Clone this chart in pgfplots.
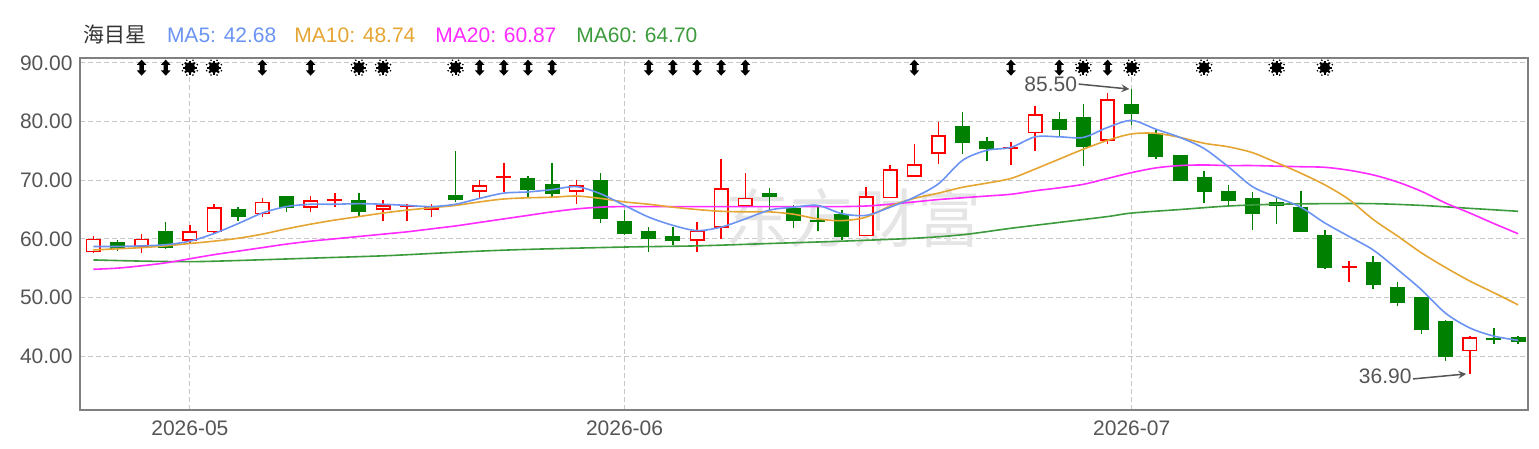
\documentclass[border=0pt]{standalone}
\usepackage{fontspec}
\setmainfont{Liberation Sans}
\newfontfamily\cjk{Noto Sans CJK SC}
\usepackage{pgfplots}
\pgfplotsset{compat=1.18}
\usepackage{pgfplotstable}

\definecolor{cred}{HTML}{FF0000}
\definecolor{cgreen}{HTML}{008000}
\definecolor{ma5}{HTML}{6A93F2}
\definecolor{ma10}{HTML}{E5A532}
\definecolor{ma20}{HTML}{FF2BFF}
\definecolor{ma60}{HTML}{3C9B3C}
\definecolor{txt}{HTML}{555555}

% top-row event marks
\pgfdeclareplotmark{updown}{%
  \pgfpathmoveto{\pgfqpoint{0pt}{4pt}}%
  \pgfpathlineto{\pgfqpoint{-2.4pt}{1.4pt}}%
  \pgfpathlineto{\pgfqpoint{-1.1pt}{1.4pt}}%
  \pgfpathlineto{\pgfqpoint{-1.1pt}{-1.4pt}}%
  \pgfpathlineto{\pgfqpoint{-2.4pt}{-1.4pt}}%
  \pgfpathlineto{\pgfqpoint{0pt}{-4pt}}%
  \pgfpathlineto{\pgfqpoint{2.4pt}{-1.4pt}}%
  \pgfpathlineto{\pgfqpoint{1.1pt}{-1.4pt}}%
  \pgfpathlineto{\pgfqpoint{1.1pt}{1.4pt}}%
  \pgfpathlineto{\pgfqpoint{2.4pt}{1.4pt}}%
  \pgfpathclose\pgfusepathqfill}
\pgfdeclareplotmark{burst}{%
  \pgfpathcircle{\pgfpointorigin}{2.7pt}\pgfusepathqfill
  \foreach \a in {0,45,...,315}{%
    \pgfpathmoveto{\pgfpointpolar{\a}{1.5pt}}%
    \pgfpathlineto{\pgfpointpolar{\a}{3.5pt}}%
    \pgfsetlinewidth{1pt}\pgfusepathqstroke
    \pgfpathcircle{\pgfpointpolar{\a+22.5}{4pt}}{0.45pt}\pgfusepathqfill}}

% candles, i = trading day
\pgfplotstableread{
i o h l c
0 57.7 60.4 57.5 60.0
2 58.6 60.9 57.5 60.0
4 59.7 62.3 59.3 61.3
5 61.1 66.0 60.9 65.4
7 64.2 67.0 63.7 66.3
9 65.3 67.3 64.6 66.6
10 66.5 67.8 65.5 66.7
12 65.0 66.6 63.0 65.7
13 65.6 66.0 63.1 65.7
14 64.9 66.0 63.7 65.4
16 68.0 70.0 66.9 69.1
17 70.5 72.9 68.0 70.7
20 68.0 70.0 65.9 69.1
25 59.7 62.9 57.8 61.4
26 61.9 73.7 60.0 68.6
27 65.5 71.3 65.5 67.0
32 60.4 68.9 60.4 67.3
33 66.9 72.6 66.9 71.9
34 70.6 76.1 70.6 72.7
35 74.5 79.9 72.7 77.7
38 75.4 76.6 72.6 75.6
39 78.0 82.7 74.9 81.3
42 76.7 84.9 76.2 83.8
52 55.2 56.3 52.7 55.3
57 40.8 43.5 36.9 43.2
}\upt
\pgfplotstableread{
i o h l c
1 59.5 59.8 58.0 58.3
3 61.4 62.9 58.3 58.4
6 65.1 65.4 63.0 63.7
8 67.3 67.3 64.6 65.3
11 66.6 67.8 63.7 64.6
15 67.5 75.0 66.3 66.7
18 70.4 70.7 66.9 68.3
19 69.4 72.9 66.9 67.7
21 70.1 71.3 62.7 63.3
22 63.0 65.0 60.6 60.9
23 61.4 62.0 57.8 60.0
24 60.5 62.0 58.9 59.6
28 67.8 68.6 64.9 67.1
29 65.3 65.7 61.9 63.1
30 63.1 65.4 61.4 63.0
31 64.2 65.0 59.8 60.3
36 79.3 81.7 74.5 76.3
37 76.7 77.3 73.3 75.4
40 80.5 81.7 77.3 78.6
41 80.7 83.0 72.4 75.7
43 83.0 85.5 79.4 81.3
44 78.0 78.6 73.6 73.9
45 74.3 74.3 69.9 69.9
46 70.6 71.5 66.1 68.0
47 68.1 69.1 65.6 66.5
48 66.9 68.0 61.5 64.3
49 66.2 66.9 62.5 65.6
50 65.4 68.1 61.1 61.1
51 60.6 61.5 54.8 55.1
53 56.0 57.1 51.4 52.1
54 51.7 52.6 48.6 49.0
55 50.1 50.1 43.8 44.5
56 45.9 46.1 39.2 39.9
58 42.9 44.8 42.0 42.8
59 43.2 43.5 42.1 42.4
}\downt

\begin{document}
\begin{tikzpicture}
\useasboundingbox (-40pt,-19.5pt) rectangle (729.5pt,205pt);
\begin{axis}[
  at={(0,0)}, anchor=south west,
  scale only axis, width=724pt, height=176pt,
  xmin=-0.55, xmax=59.41, ymin=30.8, ymax=90.85,
  axis line style={draw=black!50, line width=1pt},
  xtick={4,22,43}, xticklabels={2026-05,2026-06,2026-07},
  ytick={40,50,...,90},
  major tick length=0pt,
  xmajorgrids, ymajorgrids,
  major grid style={black!22, line width=0.5pt, dash pattern=on 2.5pt off 1.5pt},
  tick label style={font=\fontsize{10.5}{12}\selectfont, text=txt},
  yticklabel style={inner sep=0pt, xshift=-3.5pt,
    /pgf/number format/.cd, fixed, fixed zerofill, precision=2, assume math mode=true},
  xticklabel style={inner sep=0pt, yshift=-5pt},
]
% watermark
\node[text=black!10, font=\cjk\fontsize{32}{34}\selectfont] at (axis cs:31.5,63.6) {东方财富};

% up candles: wick, body, hollow inside
\addplot[forget plot, draw=none, mark=none, error bars/.cd, y dir=both, y explicit, error mark=none,
  error bar style={draw=cred, line width=0.75pt}]
  table[x=i, y expr={(\thisrow{h}+\thisrow{l})/2}, y error expr={(\thisrow{h}-\thisrow{l})/2}] {\upt};
\addplot[forget plot, draw=none, mark=none, error bars/.cd, y dir=both, y explicit, error mark=none,
  error bar style={draw=cred, line width=7.5pt}]
  table[x=i, y expr={(\thisrow{o}+\thisrow{c})/2}, y error expr={max(abs(\thisrow{c}-\thisrow{o})/2,0.15)}] {\upt};
\addplot[forget plot, draw=none, mark=none, error bars/.cd, y dir=both, y explicit, error mark=none,
  error bar style={draw=white, line width=5.9pt}]
  table[x=i, y expr={(\thisrow{o}+\thisrow{c})/2}, y error expr={max(abs(\thisrow{c}-\thisrow{o})/2-0.27,0)}] {\upt};
% down candles
\addplot[forget plot, draw=none, mark=none, error bars/.cd, y dir=both, y explicit, error mark=none,
  error bar style={draw=cgreen, line width=0.75pt}]
  table[x=i, y expr={(\thisrow{h}+\thisrow{l})/2}, y error expr={(\thisrow{h}-\thisrow{l})/2}] {\downt};
\addplot[forget plot, draw=none, mark=none, error bars/.cd, y dir=both, y explicit, error mark=none,
  error bar style={draw=cgreen, line width=7.5pt}]
  table[x=i, y expr={(\thisrow{o}+\thisrow{c})/2}, y error expr={max(abs(\thisrow{c}-\thisrow{o})/2,0.15)}] {\downt};

% moving averages
\addplot[ma60, line width=0.8pt, smooth] coordinates {
(0,56.4) (2,56.2) (4,56.1) (6,56.3) (9,56.7) (12,57.1) (14,57.5) (16,57.9) (18,58.2)
(22,58.6) (25,58.8) (28,59.2) (31,59.6) (34,60.1) (36,60.7) (38,61.8) (40,62.8)
(42,63.8) (43,64.4) (45,65.0) (47,65.6) (49,65.9) (51,66.0) (53,66.0) (55,65.7)
(57,65.2) (59,64.7)};
\addplot[ma20, line width=0.8pt, smooth] coordinates {
(0,54.8) (1,55.0) (2,55.4) (3,55.9) (4,56.6) (5,57.3) (6,57.9) (7,58.5) (8,59.1) (9,59.6)
(10,60.0) (11,60.4) (12,60.8) (13,61.2) (14,61.7) (15,62.2) (16,62.8) (17,63.4) (18,64.0)
(19,64.6) (20,65.1) (21,65.4) (22,65.5) (24,65.5) (26,65.5) (28,65.5) (30,65.5) (31,65.5)
(32,65.6) (33,65.9) (34,66.3) (35,66.7) (36,67.0) (37,67.3) (38,67.6) (39,68.2) (40,68.7)
(41,69.3) (42,70.3) (43,71.3) (44,72.1) (45,72.5) (46,72.6) (47,72.5) (48,72.5) (49,72.4)
(50,72.3) (51,72.2) (52,71.7) (53,70.9) (54,69.7) (55,68.1) (56,66.1) (57,64.4) (58,62.6)
(59,60.87)};
\addplot[ma10, line width=0.8pt, smooth] coordinates {
(0,58.1) (1,58.3) (2,58.5) (3,58.8) (4,59.2) (5,59.6) (6,60.1) (7,60.8) (8,61.7) (9,62.5)
(10,63.2) (11,63.8) (12,64.4) (13,64.9) (14,65.3) (15,65.7) (16,66.3) (17,66.8) (18,67.0)
(19,67.1) (20,67.3) (21,66.9) (22,66.3) (23,65.9) (24,65.4) (25,65.0) (26,64.7) (27,64.6)
(28,64.6) (29,64.2) (30,63.4) (31,63.1) (32,63.7) (33,65.6) (34,66.9) (35,67.8) (36,68.8)
(37,69.5) (38,70.3) (39,71.9) (40,73.6) (41,75.3) (42,76.8) (43,77.9) (44,78.0) (45,77.3)
(46,76.3) (47,75.7) (48,74.7) (49,73.0) (50,71.2) (51,69.2) (52,66.7) (53,63.3) (54,60.5)
(55,57.6) (56,55.1) (57,52.8) (58,50.8) (59,48.74)};
\addplot[ma5, line width=0.8pt, smooth] coordinates {
(0,58.7) (1,58.7) (2,58.8) (3,59.0) (4,59.6) (5,60.9) (6,62.6) (7,64.4) (8,65.5) (9,65.9)
(10,65.9) (11,66.0) (12,65.9) (13,65.7) (14,65.5) (15,65.9) (16,66.9) (17,67.8) (18,68.0)
(19,68.4) (20,68.9) (21,67.7) (22,65.7) (23,63.7) (24,62.3) (25,61.4) (26,62.0) (27,63.4)
(28,64.9) (29,65.4) (30,65.7) (31,64.3) (32,64.0) (33,65.4) (34,67.1) (35,69.4) (36,73.4)
(37,75.1) (38,75.6) (39,77.4) (40,77.4) (41,77.3) (42,79.0) (43,80.2) (44,78.7) (45,77.3)
(46,75.4) (47,72.3) (48,68.9) (49,67.1) (50,65.4) (51,62.7) (52,60.4) (53,58.1) (54,54.8)
(55,51.3) (56,47.3) (57,44.8) (58,43.4) (59,42.68)};

% event marks along the top
\addplot[only marks, mark=updown, black] coordinates {
(2,89.2) (3,89.2) (7,89.2) (9,89.2) (16,89.2) (17,89.2) (18,89.2) (19,89.2) (23,89.2)
(24,89.2) (25,89.2) (26,89.2) (27,89.2) (34,89.2) (38,89.2) (40,89.2) (42,89.2)};
\addplot[only marks, mark=burst, black] coordinates {
(4,89.2) (5,89.2) (11,89.2) (12,89.2) (15,89.2) (41,89.2) (43,89.2) (46,89.2) (49,89.2) (51,89.2)};

% high / low labels
\node[anchor=east, inner sep=0pt, text=txt, font=\fontsize{10.5}{12}\selectfont] at (axis cs:40.75,86.4) {85.50};
\draw[->, >=stealth, txt, line width=0.75pt] (axis cs:40.8,86.4) -- (axis cs:42.9,85.55);
\node[anchor=east, inner sep=0pt, text=txt, font=\fontsize{10.5}{12}\selectfont] at (axis cs:54.6,36.6) {36.90};
\draw[->, >=stealth, txt, line width=0.75pt] (axis cs:54.65,36.1) -- (axis cs:56.85,36.95);
\end{axis}
% header line
\begin{scope}[every node/.style={anchor=base west, inner sep=0pt, font=\fontsize{10.5}{12}\selectfont}]
\node[text=black!80] at (1.6pt,183.5pt) {\cjk 海目星};
\node[text=ma5] at (43.3pt,183.5pt) {MA5: 42.68};
\node[text=ma10] at (107pt,183.5pt) {MA10: 48.74};
\node[text=ma20] at (177.5pt,183.5pt) {MA20: 60.87};
\node[text=ma60] at (248pt,183.5pt) {MA60: 64.70};
\end{scope}
\end{tikzpicture}
\end{document}
